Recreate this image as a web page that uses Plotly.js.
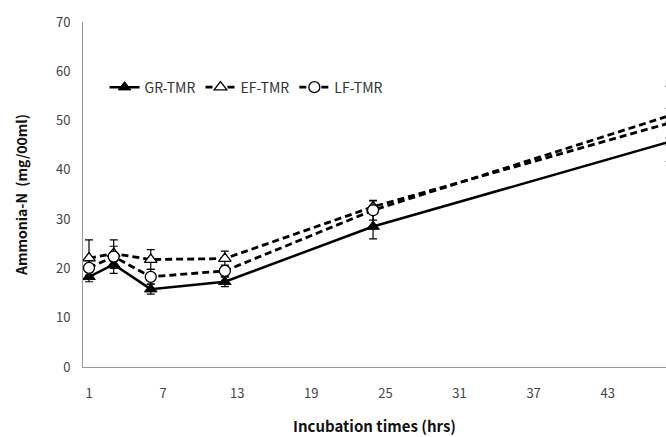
<!DOCTYPE html>
<html>
<head>
<meta charset="utf-8">
<script src="https://cdn.plot.ly/plotly-3.0.1.min.js"></script>
<style>html,body{margin:0;padding:0;background:#fff;}#chart{width:666px;height:437px;}</style>
</head>
<body>
<div id="chart"></div>
<script>
const hours = [1, 3, 6, 12, 24, 48];
const grTMR = [18.3, 20.8, 15.8, 17.3, 28.5, 45.7];
const grErr = [1.0, 0.8, 1.0, 1.0, 2.5, 4.0];
const efTMR = [22.1, 23.0, 21.8, 22.0, 32.5, 49.5];
const efErr = [3.7, 1.5, 2.0, 1.5, 1.2, 3.0];
const lfTMR = [20.1, 22.4, 18.3, 19.5, 31.8, 51.0];
const lfErr = [1.5, 3.4, 1.5, 1.2, 2.0, 6.0];
const xTicks = [1, 7, 13, 19, 25, 31, 37, 43];

function errObj(arr) {
  return {type: 'data', array: arr, visible: true, color: '#000', thickness: 1.2, width: 4};
}

const traces = [
  {x: hours, y: grTMR, name: 'GR-TMR', type: 'scatter', mode: 'lines+markers',
   line: {color: '#000', width: 2.5}, cliponaxis: false,
   marker: {symbol: 'triangle-up', size: 11, color: '#000', line: {color: '#000', width: 1}},
   error_y: errObj(grErr)},
  {x: hours, y: efTMR, name: 'EF-TMR', type: 'scatter', mode: 'lines+markers',
   line: {color: '#000', width: 2.8, dash: '7px,4px'}, cliponaxis: false,
   marker: {symbol: 'triangle-up', size: 11, color: '#fff', line: {color: '#000', width: 1.3}},
   error_y: errObj(efErr)},
  {x: hours, y: lfTMR, name: 'LF-TMR', type: 'scatter', mode: 'lines+markers',
   line: {color: '#000', width: 2.8, dash: '7px,4px'}, cliponaxis: false,
   marker: {symbol: 'circle', size: 11, color: '#fff', line: {color: '#000', width: 1.3}},
   error_y: errObj(lfErr)}
];

const tickFont = {family: '"Noto Sans CJK KR", "Noto Sans", sans-serif', size: 13, color: '#444'};
const layout = {
  width: 666, height: 437,
  margin: {l: 83, r: 0, t: 22, b: 70},
  paper_bgcolor: '#fff', plot_bgcolor: '#fff',
  showlegend: true,
  legend: {orientation: 'h', x: 0.037, y: 0.81, xanchor: 'left', yanchor: 'middle',
           bgcolor: 'rgba(0,0,0,0)', font: {family: '"Noto Sans CJK KR", "Noto Sans", sans-serif', size: 14, color: '#333'},
           itemwidth: 30, tracegroupgap: 0},
  xaxis: {range: [0.514, 47.72], tickvals: xTicks, ticktext: xTicks.map(String),
          showgrid: false, zeroline: false, showline: true, linecolor: '#999', linewidth: 1,
          ticks: '', tickfont: tickFont, ticklabelstandoff: 14,
          title: {text: 'Incubation times (hrs)', standoff: 20,
                  font: {family: '"Noto Sans CJK KR", "Noto Sans", sans-serif', size: 15, color: '#111', weight: 'bold'}}},
  yaxis: {range: [0, 70], dtick: 10, showgrid: false, zeroline: false, showline: true,
          linecolor: '#999', linewidth: 1, ticks: '', tickfont: tickFont, ticklabelstandoff: 9,
          title: {text: 'Ammonia-N  (mg/00ml)', standoff: 25,
                  font: {family: '"Noto Sans CJK KR", "Noto Sans", sans-serif', size: 14, color: '#111', weight: 'bold'}}}
};

Plotly.newPlot('chart', traces, layout, {displayModeBar: false, staticPlot: true});
</script>
</body>
</html>
